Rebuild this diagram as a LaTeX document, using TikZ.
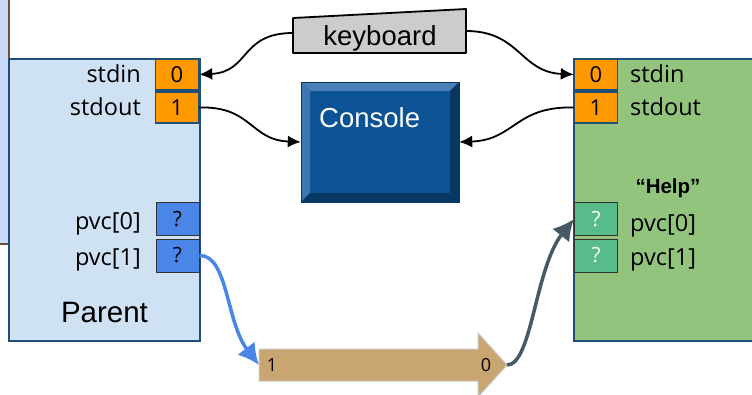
\documentclass[tikz,border=0pt]{standalone}
\usepackage{fontspec}
\setmainfont{Open Sans}
\newfontfamily\arialish{Liberation Sans}
\usetikzlibrary{arrows.meta}

\definecolor{panelblue}{HTML}{C9DAF8}
\definecolor{panelbrown}{HTML}{6D4C41}
\definecolor{parentblue}{HTML}{CFE2F3}
\definecolor{framenavy}{HTML}{1F4E79}
\definecolor{fdorange}{HTML}{FF9900}
\definecolor{pvcblue}{HTML}{4A86E8}
\definecolor{pvcteal}{HTML}{57BB8A}
\definecolor{childgreen}{HTML}{93C47D}
\definecolor{keygray}{HTML}{CCCCCC}
\definecolor{consoleface}{HTML}{0B5394}
\definecolor{consolelight}{HTML}{4A80B8}
\definecolor{consoledark}{HTML}{073763}
\definecolor{pipebrown}{HTML}{C9A572}
\definecolor{pipeedge}{HTML}{C8C8C8}
\definecolor{slate}{HTML}{455A64}

\tikzset{
  procbox/.style={draw=framenavy, line width=1.8pt, anchor=north west, inner sep=0pt},
  fdbox/.style={draw=framenavy, line width=1.5pt, fill=fdorange, minimum width=43pt,
    minimum height=31pt, inner sep=0pt, font=\fontsize{22}{22}\selectfont},
  pvcbox/.style={draw=black!80, line width=1pt, minimum width=43pt,
    minimum height=33pt, inner sep=0pt, font=\fontsize{21}{21}\selectfont},
  lbl/.style={inner sep=0pt, font=\fontsize{23.5}{23.5}\selectfont},
  conn/.style={line width=1.8pt, -{Latex[length=13pt,width=12pt]}},
  pipeconn/.style={line width=3.5pt, -{Latex[length=21pt,width=22pt]}},
}

\begin{document}
\begin{tikzpicture}[x=1pt,y=-1pt]
\useasboundingbox (0,0) rectangle (752,394);
\clip (0,0) rectangle (752,394);

% window behind the parent process
\fill[panelblue] (-5,-5) rectangle (9,244);
\draw[panelbrown, line width=1.5pt] (9,-5) -- (9,244) -- (-5,244);

% parent process
\node (parent) [procbox, fill=parentblue, minimum width=191pt, minimum height=282pt] at (8,58) {};
\node (pin)  [fdbox] at (177,74.5) {0};
\node (pout) [fdbox] at (177,107.5) {1};
\node (pv0)  [pvcbox, fill=pvcblue] at (177.5,219) {?};
\node (pv1)  [pvcbox, fill=pvcblue] at (177.5,255.5) {?};
\node (pinl)  [lbl, anchor=base east] at (141,82) {stdin};
\node (poutl) [lbl, anchor=base east] at (141,115) {stdout};
\node (pv0l)  [lbl, anchor=base east] at (141,229) {pvc[0]};
\node (pv1l)  [lbl, anchor=base east] at (141,265) {pvc[1]};
\node (pname) [inner sep=0pt, anchor=base, font=\arialish\fontsize{29.5}{29.5}\selectfont] at (104.5,322) {Parent};

% child process
\node (child) [procbox, fill=childgreen, minimum width=200pt, minimum height=282pt] at (573,58) {};
\node (cin)  [fdbox] at (596,74.5) {0};
\node (cout) [fdbox] at (596,107.5) {1};
\node (cv0)  [pvcbox, fill=pvcteal, text=white] at (596,219) {?};
\node (cv1)  [pvcbox, fill=pvcteal, text=white] at (596,255.5) {?};
\node (cinl)  [lbl, anchor=base west] at (630,82) {stdin};
\node (coutl) [lbl, anchor=base west] at (630,115) {stdout};
\node (cv0l)  [lbl, anchor=base west] at (630,231) {pvc[0]};
\node (cv1l)  [lbl, anchor=base west] at (630,265) {pvc[1]};
\node (cname) [inner sep=0pt, anchor=base, font=\arialish\bfseries\fontsize{20.5}{20.5}\selectfont] at (668,193) {“Help”};

% keyboard
\draw[fill=keygray, line width=1.8pt, line join=round] (293,18) -- (466,9) -- (466,53) -- (293,53) -- cycle;
\node (kbd) [inner sep=0pt, anchor=base, font=\arialish\fontsize{27.5}{27.5}\selectfont] at (380,45) {keyboard};
\coordinate (kbdW) at (293,33);
\coordinate (kbdE) at (466,31);

% console with bevelled frame
\node (console) [minimum width=158pt, minimum height=120pt, inner sep=0pt] at (380,142) {};
\fill[consoleface] (301,82) rectangle (459,202);
\fill[consolelight] (301,82) -- (459,82) -- (450,91) -- (310,91) -- cycle;
\fill[consolelight!80!consoleface] (301,82) -- (310,91) -- (310,193) -- (301,202) -- cycle;
\fill[consoledark] (459,82) -- (459,202) -- (450,193) -- (450,91) -- cycle;
\fill[consoledark] (301,202) -- (459,202) -- (450,193) -- (310,193) -- cycle;
\draw[consoledark, line width=0.8pt] (301,82) rectangle (459,202);
\node (ctext) [inner sep=0pt, anchor=base west, text=white, font=\arialish\fontsize{27.5}{27.5}\selectfont] at (319,127) {Console};

% pipe
\fill[pipebrown] (259,349) -- (478,349) -- (478,333) -- (507,365) -- (478,397) -- (478,381) -- (259,381) -- cycle;
\draw[pipeedge, line width=1pt] (259,349) -- (478,349) -- (478,333) -- (507,365) -- (478,397) -- (478,381) -- (259,381) -- cycle;
\coordinate (pipetail) at (259,365);
\coordinate (pipetip) at (507,365);
\node (pipein)  [inner sep=0pt, font=\fontsize{18}{18}\selectfont] at (272,365) {1};
\node (pipeout) [inner sep=0pt, font=\fontsize{18}{18}\selectfont] at (486,365) {0};

% connectors
\draw[conn] (kbdW) .. controls (240,33) and (250,72) .. (pin.east);
\draw[conn] (kbdE) .. controls (520,31) and (520,72) .. (cin.west);
\draw[conn] (pout.east) .. controls (252,106) and (250,140) .. (console.west);
\draw[conn] (cout.west) .. controls (515,106) and (515,140) .. (console.east);
\draw[pipeconn, pvcblue] (pv1.east) .. controls (228,255) and (226,322) .. (pipetail);
\draw[pipeconn, slate] (pipetip) .. controls (532,365) and (535,268) .. (cv0.west);
\end{tikzpicture}
\end{document}
